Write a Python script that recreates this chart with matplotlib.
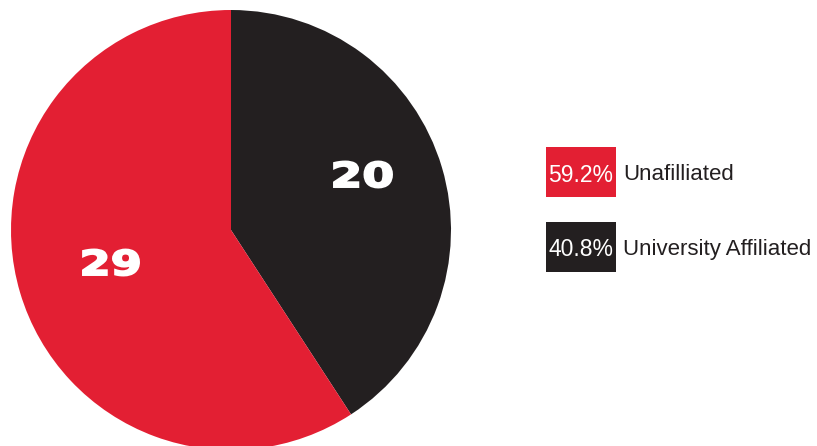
import matplotlib
matplotlib.use("Agg")
import matplotlib.pyplot as plt
from matplotlib.patches import Rectangle, PathPatch
from matplotlib.textpath import TextPath
from matplotlib.font_manager import FontProperties
from matplotlib.transforms import Affine2D

# data
labels = ["Unafilliated", "University Affiliated"]
counts = [29, 20]
colors = ["#E31F33", "#231F20"]

W, H = 817, 446
fig = plt.figure(figsize=(W / 100, H / 100), dpi=100)

# pie axes, placed in pixel terms (center ~ (231, 230), radius ~ 220)
cx, cy, r = 231, 230, 220
ax = fig.add_axes([(cx - r) / W, (H - cy - r) / H, 2 * r / W, 2 * r / H])
ax.pie(counts[::-1], colors=colors[::-1], startangle=90, counterclock=False,
       radius=1, wedgeprops=dict(linewidth=0))
ax.set_xlim(-1, 1)
ax.set_ylim(-1, 1)
ax.set_aspect("equal")
ax.axis("off")


def wide_label(s, xc, yc, w, h):
    """draw a wide, heavy number centred at pixel (xc, yc from top), box w x h px"""
    tp = TextPath((0, 0), s, size=30, prop=FontProperties(family="DejaVu Sans", weight="bold"))
    ext = tp.get_extents()
    sx, sy = (w - 2) / ext.width, (h - 2) / ext.height
    tr = (Affine2D().translate(-ext.x0 - ext.width / 2, -ext.y0 - ext.height / 2)
          .scale(sx, sy).translate(xc, H - yc))
    fig.patches.append(PathPatch(tp, transform=tr, facecolor="white",
                                 edgecolor="white", linewidth=1.4))


# count labels inside the slices
wide_label(str(counts[1]), 363, 174.5, 60, 28)
wide_label(str(counts[0]), 111, 262.5, 58, 28)

# legend: colored boxes with percentages
total = sum(counts)
box_x, box_w, box_h = 546, 70, 50
box_tops = [147, 222]
for lab, n, col, top in zip(labels, counts, colors, box_tops):
    fig.patches.append(Rectangle((box_x / W, (H - top - box_h) / H), box_w / W, box_h / H,
                                 transform=fig.transFigure, facecolor=col, edgecolor="none"))
    yc = (H - top - box_h / 2 - 3) / H
    fig.text((box_x + box_w / 2) / W, yc, f"{100 * n / total:.1f}%", color="white",
             fontsize=16.5, ha="center", va="center", family="Liberation Sans")
    fig.text((box_x + box_w + 7) / W, yc, lab, color="#231F20",
             fontsize=16, ha="left", va="center", family="Liberation Sans")

fig.savefig("out.png", dpi=100)
